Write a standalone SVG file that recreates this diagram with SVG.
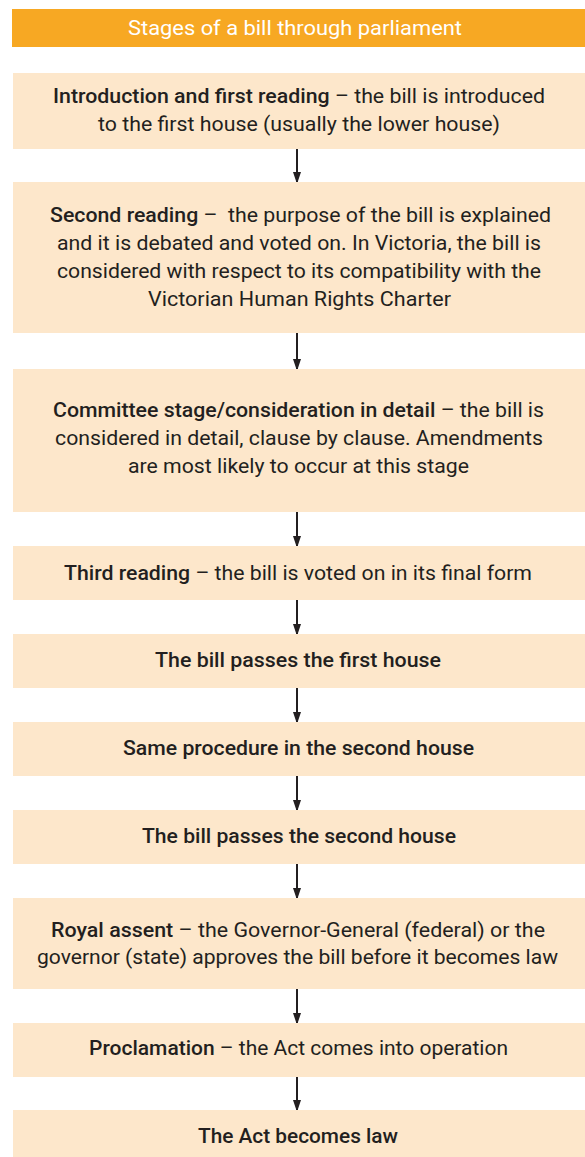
<svg xmlns="http://www.w3.org/2000/svg" width="585" height="1157" viewBox="0 0 585 1157">
<defs>
<marker id="ah" markerUnits="userSpaceOnUse" markerWidth="10" markerHeight="14" refX="10" refY="4.5" orient="auto">
<path d="M0,0.5 L12,4.5 L0,8.5 Z" fill="#231f20"/>
</marker>
<style>
.box{fill:#fde7cb}
.t{font-family:Roboto,"Liberation Sans",sans-serif;font-size:20px;fill:#231f20;text-anchor:middle}
.b{font-weight:500}
.h{font-family:Roboto,"Liberation Sans",sans-serif;font-size:20.5px;fill:#ffffff;text-anchor:middle}
.c{stroke:#231f20;stroke-width:2;fill:none;marker-end:url(#ah)}
</style>
</defs>
<rect width="585" height="1157" fill="#ffffff"/>
<g id="title">
<rect x="12" y="9" width="573" height="38" fill="#f7a823"/>
<text class="h" x="295" y="35" textLength="334" lengthAdjust="spacingAndGlyphs">Stages of a bill through parliament</text>
</g>
<g id="connectors">
<line class="c" x1="297" y1="149" x2="297" y2="182"/>
<line class="c" x1="297" y1="333" x2="297" y2="369"/>
<line class="c" x1="297" y1="512" x2="297" y2="546"/>
<line class="c" x1="297" y1="600" x2="297" y2="634"/>
<line class="c" x1="297" y1="688" x2="297" y2="722"/>
<line class="c" x1="297" y1="776" x2="297" y2="810"/>
<line class="c" x1="297" y1="864" x2="297" y2="898"/>
<line class="c" x1="297" y1="989" x2="297" y2="1023"/>
<line class="c" x1="297" y1="1077" x2="297" y2="1110"/>
</g>
<g id="n1">
<rect class="box" x="13" y="73" width="572" height="76"/>
<text class="t" x="299" y="103" textLength="492" lengthAdjust="spacingAndGlyphs"><tspan class="b">Introduction and first reading</tspan> – the bill is introduced</text>
<text class="t" x="299" y="131" textLength="402" lengthAdjust="spacingAndGlyphs">to the first house (usually the lower house)</text>
</g>
<g id="n2">
<rect class="box" x="13" y="182" width="572" height="151"/>
<text class="t" x="300.5" y="221.5" textLength="501" lengthAdjust="spacingAndGlyphs" xml:space="preserve"><tspan class="b">Second reading</tspan> –  the purpose of the bill is explained</text>
<text class="t" x="299" y="249.5" textLength="484" lengthAdjust="spacingAndGlyphs">and it is debated and voted on. In Victoria, the bill is</text>
<text class="t" x="299" y="277.5" textLength="484" lengthAdjust="spacingAndGlyphs">considered with respect to its compatibility with the</text>
<text class="t" x="299.5" y="305.5" textLength="303" lengthAdjust="spacingAndGlyphs">Victorian Human Rights Charter</text>
</g>
<g id="n3">
<rect class="box" x="13" y="369" width="572" height="143"/>
<text class="t" x="298.5" y="416.5" textLength="491" lengthAdjust="spacingAndGlyphs"><tspan class="b">Committee stage/consideration in detail</tspan> – the bill is</text>
<text class="t" x="299" y="444.5" textLength="488" lengthAdjust="spacingAndGlyphs">considered in detail, clause by clause. Amendments</text>
<text class="t" x="298.5" y="472.5" textLength="341" lengthAdjust="spacingAndGlyphs">are most likely to occur at this stage</text>
</g>
<g id="n4">
<rect class="box" x="13" y="546" width="572" height="54"/>
<text class="t" x="298" y="579.5" textLength="468" lengthAdjust="spacingAndGlyphs"><tspan class="b">Third reading</tspan> – the bill is voted on in its final form</text>
</g>
<g id="n5">
<rect class="box" x="13" y="634" width="572" height="54"/>
<text class="t b" x="298" y="667" textLength="286" lengthAdjust="spacingAndGlyphs">The bill passes the first house</text>
</g>
<g id="n6">
<rect class="box" x="13" y="722" width="572" height="54"/>
<text class="t b" x="298.5" y="755" textLength="351" lengthAdjust="spacingAndGlyphs">Same procedure in the second house</text>
</g>
<g id="n7">
<rect class="box" x="13" y="810" width="572" height="54"/>
<text class="t b" x="299" y="843" textLength="314" lengthAdjust="spacingAndGlyphs">The bill passes the second house</text>
</g>
<g id="n8">
<rect class="box" x="13" y="898" width="572" height="91"/>
<text class="t" x="298" y="936.5" textLength="494" lengthAdjust="spacingAndGlyphs"><tspan class="b">Royal assent</tspan> – the Governor-General (federal) or the</text>
<text class="t" x="297.5" y="964" textLength="521" lengthAdjust="spacingAndGlyphs">governor (state) approves the bill before it becomes law</text>
</g>
<g id="n9">
<rect class="box" x="13" y="1023" width="572" height="54"/>
<text class="t" x="298.5" y="1055" textLength="419" lengthAdjust="spacingAndGlyphs"><tspan class="b">Proclamation</tspan> – the Act comes into operation</text>
</g>
<g id="n10">
<rect class="box" x="13" y="1110" width="572" height="47"/>
<text class="t b" x="298" y="1142.5" textLength="200" lengthAdjust="spacingAndGlyphs">The Act becomes law</text>
</g>
</svg>
